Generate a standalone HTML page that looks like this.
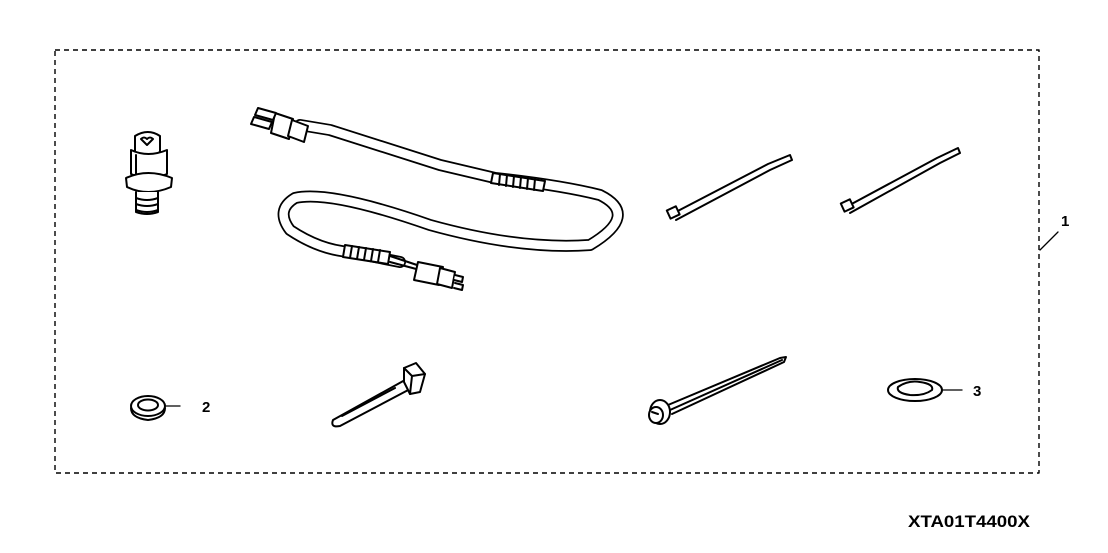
<!DOCTYPE html>
<html><head><meta charset="utf-8"><style>
html,body{margin:0;padding:0;background:#fff;}
svg{display:block;}
text{font-family:"Liberation Sans",Arial,sans-serif;font-weight:bold;fill:#000;}
</style></head><body>
<svg width="1108" height="553" viewBox="0 0 1108 553" xmlns="http://www.w3.org/2000/svg" fill="none" stroke="#000" stroke-width="2" stroke-linejoin="round" stroke-linecap="round">
<rect x="55" y="50" width="984" height="423" stroke-dasharray="5,4" stroke-width="1.4" stroke-linecap="butt"/>
<line x1="1040" y1="250" x2="1058" y2="232" stroke-width="1.3"/>
<text x="1061" y="226" font-size="15" stroke="none">1</text>
<text x="908" y="527" font-size="17" stroke="none" textLength="122" lengthAdjust="spacingAndGlyphs">XTA01T4400X</text>

<g>
<path d="M135 136 Q148 128 160 136 L160 152 Q148 158 135 152 Z" fill="#fff"/>
<path d="M141 139 q3 -3 6 0 q3 -3 6 0 l-6 6 z"/>
<path d="M131 150 L131 174 Q148 182 167 174 L167 150 Q148 158 131 150 Z" fill="#fff"/>
<line x1="136" y1="155" x2="136" y2="176"/>
<path d="M126 178 Q148 168 172 178 L171 187 Q148 197 127 187 Z" fill="#fff"/>
<path d="M136 192 L136 212 Q147 216 158 212 L158 192" fill="#fff"/>
<path d="M136 198 q11 4 22 0 M136 204 q11 4 22 0 M136 210 q11 4 22 0"/>
</g>

<g>
<path d="M300 125 L330 130 L440 165 L495 178 Q560 185 600 195 Q640 215 590 245 Q520 250 430 225 Q330 190 295 198 Q275 210 290 230 Q320 250 350 252 L400 262" stroke-width="12"/>
<path d="M300 125 L330 130 L440 165 L495 178 Q560 185 600 195 Q640 215 590 245 Q520 250 430 225 Q330 190 295 198 Q275 210 290 230 Q320 250 350 252 L400 262" stroke="#fff" stroke-width="8.5"/>
<path d="M493 173 l52 8 l-2 10 l-52 -8 z" fill="#fff"/>
<path d="M500 174 l-1 11 M507 175 l-1 11 M514 176 l-1 11 M521 177 l-1 11 M528 178 l-1 11 M535 179 l-1 11"/>
<path d="M345 245 l45 7 l-2 12 l-45 -7 z" fill="#fff"/>
<path d="M352 246 l-2 12 M359 247 l-2 12 M366 248 l-2 12 M373 249 l-2 12 M380 250 l-2 12"/>
<path d="M390 256 L420 266 M390 262 L420 270" />
<path d="M418 262 l25 5 l-4 18 l-25 -5 z" fill="#fff"/>
<path d="M440 268 l15 4 l-3 16 l-15 -4 z" fill="#fff"/>
<path d="M455 275 l8 2 l-1 5 l-8 -2 M455 283 l8 2 l-1 5 l-8 -2" fill="#fff"/>
<path d="M275 113 l18 6 l-4 20 l-18 -6 z" fill="#fff"/>
<path d="M292 120 l16 6 l-4 16 l-16 -6 z" fill="#fff"/>
<path d="M258 108 l18 5 l-3 7 l-18 -5 z M254 117 l18 5 l-3 7 l-18 -5 z" fill="#fff"/>
</g>

<g>
<path d="M672 214 L768 164 L790 155 L792 160 L770 170 L676 220" fill="#fff"/>
<rect x="668" y="208" width="10" height="9" transform="rotate(-25 673 212)" fill="#fff"/>
<path d="M846 207 L937 158 L958 148 L960 153 L940 163 L850 213" fill="#fff"/>
<rect x="842" y="201" width="10" height="9" transform="rotate(-25 847 205)" fill="#fff"/>
</g>

<ellipse cx="148" cy="406" rx="17" ry="10" fill="#fff"/>
<ellipse cx="148" cy="405" rx="10" ry="5.5"/>
<path d="M131 408 q0 10 17 12 q17 -2 17 -12"/>
<line x1="165" y1="406" x2="180" y2="406" stroke-width="1.3"/>
<text x="202" y="412" font-size="15" stroke="none">2</text>

<g>
<path d="M333 420 L405 380 L412 388 L340 426 Q330 428 333 420 Z" fill="#fff"/>
<path d="M342 416 L395 388"/>
<path d="M404 368 L416 363 L425 374 L420 392 L410 394 L404 382 Z" fill="#fff"/>
<path d="M404 368 L412 376 L425 374 M412 376 L410 394"/>
</g>

<g>
<path d="M668 405 L780 358 L786 357 L784 362 L672 414" fill="#fff"/>
<path d="M670 410 L782 360"/>
<ellipse cx="660" cy="412" rx="10" ry="12" fill="#fff"/>
<ellipse cx="656" cy="415" rx="7" ry="8" fill="#fff"/>
<path d="M652 412 l6 2"/>
</g>

<ellipse cx="915" cy="390" rx="27" ry="11" fill="#fff"/>
<path d="M898 387 q10 -7 22 -5 q14 2 12 8 q-8 6 -22 5 q-14 -2 -12 -8 z"/>
<line x1="942" y1="390" x2="962" y2="390" stroke-width="1.3"/>
<text x="973" y="396" font-size="15" stroke="none">3</text>
</svg>
</body></html>
